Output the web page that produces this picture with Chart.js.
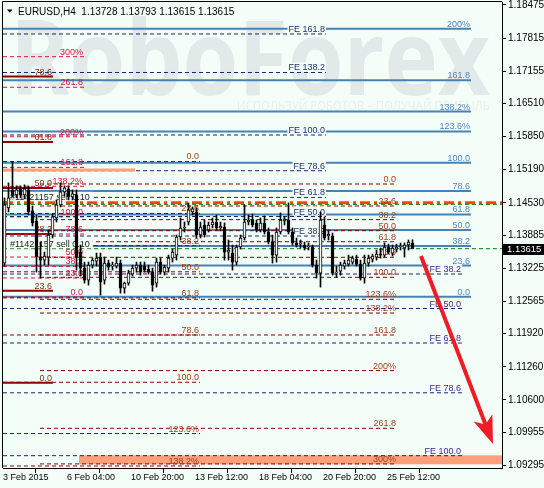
<!DOCTYPE html>
<html>
<head>
<meta charset="utf-8">
<title>EURUSD H4</title>
<script src="https://cdn.jsdelivr.net/npm/chart.js@4.4.1/dist/chart.umd.min.js"></script>
<style>
  html, body { margin: 0; padding: 0; background: #f4fef9; }
  canvas { display: block; }
</style>
</head>
<body>
<canvas id="chart" width="544" height="488"></canvas>
<script>
// EURUSD, H4 bars, 3 Feb 2015 12:00 .. 26 Feb 2015 12:00
var openP = [1.13328, 1.14428, 1.14788, 1.14688, 1.14808, 1.14688, 1.14788, 1.14368, 1.14168, 1.13448,
  1.13388, 1.13448, 1.13888, 1.14228, 1.14488, 1.14748, 1.14808, 1.14648, 1.14688, 1.13548,
  1.13228, 1.12988, 1.13288, 1.13368, 1.13448, 1.12988, 1.13328, 1.13268, 1.13268, 1.13328,
  1.12828, 1.12928, 1.13108, 1.13228, 1.13288, 1.13268, 1.13208, 1.13148, 1.12928, 1.13348,
  1.13148, 1.13228, 1.13428, 1.13488, 1.13848, 1.14028, 1.14148, 1.14348, 1.14348, 1.13888,
  1.14088, 1.13988, 1.14088, 1.14148, 1.14028, 1.14048, 1.13548, 1.13528, 1.13348, 1.13648,
  1.13828, 1.14148, 1.14188, 1.14128, 1.13988, 1.14128, 1.13948, 1.13748, 1.13488, 1.13948,
  1.14168, 1.14188, 1.13948, 1.13728, 1.13708, 1.13688, 1.13648, 1.13648, 1.13288, 1.13128,
  1.14088, 1.13868, 1.13868, 1.13128, 1.13168, 1.13268, 1.13308, 1.13348, 1.13408, 1.13308,
  1.13028, 1.13328, 1.13408, 1.13448, 1.13508, 1.13488, 1.13648, 1.13528, 1.13608, 1.13648,
  1.13628, 1.13688, 1.13728];
var highP = [1.14628, 1.14928, 1.15348, 1.14868, 1.14868, 1.14888, 1.14868, 1.14468, 1.14288, 1.13748,
  1.13548, 1.13988, 1.14308, 1.14588, 1.14928, 1.14868, 1.14868, 1.14788, 1.14788, 1.13688,
  1.13348, 1.13348, 1.13428, 1.13528, 1.13528, 1.13448, 1.13388, 1.13348, 1.13448, 1.13388,
  1.12948, 1.13188, 1.13288, 1.13348, 1.13348, 1.13348, 1.13288, 1.13228, 1.13428, 1.13428,
  1.13288, 1.13488, 1.13608, 1.13888, 1.14228, 1.14148, 1.14528, 1.14448, 1.14428, 1.14148,
  1.14188, 1.14148, 1.14228, 1.14288, 1.14148, 1.14128, 1.13788, 1.13688, 1.13688, 1.13888,
  1.14488, 1.14288, 1.14308, 1.14188, 1.14228, 1.14268, 1.14028, 1.13888, 1.14028, 1.14328,
  1.14248, 1.14528, 1.14028, 1.13828, 1.13788, 1.13748, 1.13728, 1.13688, 1.13388, 1.14348,
  1.14248, 1.13988, 1.13928, 1.13268, 1.13348, 1.13388, 1.13488, 1.13468, 1.13488, 1.13388,
  1.13488, 1.13488, 1.13508, 1.13588, 1.13628, 1.13728, 1.13708, 1.13688, 1.13708, 1.13728,
  1.13728, 1.13788, 1.13793];
var lowP = [1.13268, 1.14348, 1.14648, 1.14628, 1.14628, 1.14608, 1.14288, 1.14068, 1.13148, 1.13028,
  1.13288, 1.13288, 1.13828, 1.14148, 1.14448, 1.14668, 1.14588, 1.14588, 1.13188, 1.13068,
  1.12928, 1.12888, 1.13228, 1.13268, 1.12688, 1.12908, 1.13188, 1.13188, 1.13228, 1.12728,
  1.12728, 1.12888, 1.13068, 1.13148, 1.13088, 1.13148, 1.13108, 1.12768, 1.12848, 1.13108,
  1.13088, 1.13148, 1.13348, 1.13388, 1.13788, 1.13948, 1.14088, 1.14288, 1.13828, 1.13828,
  1.13848, 1.13948, 1.14028, 1.13988, 1.13968, 1.13388, 1.13388, 1.13188, 1.13288, 1.13608,
  1.13788, 1.14088, 1.14048, 1.13948, 1.13948, 1.13908, 1.13708, 1.13328, 1.13348, 1.13908,
  1.14088, 1.13908, 1.13688, 1.13648, 1.13628, 1.13588, 1.13588, 1.13248, 1.13028, 1.12848,
  1.13788, 1.13788, 1.13088, 1.13048, 1.13088, 1.13208, 1.13268, 1.13308, 1.13268, 1.12988,
  1.12928, 1.13268, 1.13348, 1.13388, 1.13428, 1.13448, 1.13508, 1.13468, 1.13548, 1.13588,
  1.13448, 1.13588, 1.13615];
var closeP = [1.14488, 1.14628, 1.14688, 1.14788, 1.14688, 1.14808, 1.14348, 1.14128, 1.13448, 1.13388,
  1.13468, 1.13888, 1.14248, 1.14488, 1.14748, 1.14828, 1.14648, 1.14708, 1.13448, 1.13228,
  1.12988, 1.13288, 1.13388, 1.13428, 1.12948, 1.13328, 1.13248, 1.13288, 1.13328, 1.12828,
  1.12928, 1.13128, 1.13228, 1.13288, 1.13148, 1.13188, 1.13148, 1.12888, 1.13348, 1.13148,
  1.13248, 1.13428, 1.13548, 1.13848, 1.14028, 1.14048, 1.14388, 1.14408, 1.13888, 1.14048,
  1.13888, 1.14088, 1.14148, 1.14028, 1.14068, 1.13548, 1.13588, 1.13348, 1.13648, 1.13828,
  1.14148, 1.14188, 1.14088, 1.13988, 1.14128, 1.13948, 1.13748, 1.13488, 1.13948, 1.14188,
  1.14208, 1.13948, 1.13728, 1.13688, 1.13728, 1.13628, 1.13668, 1.13288, 1.13128, 1.14188,
  1.13828, 1.13908, 1.13128, 1.13148, 1.13288, 1.13328, 1.13388, 1.13428, 1.13308, 1.13028,
  1.13328, 1.13428, 1.13468, 1.13508, 1.13488, 1.13648, 1.13548, 1.13628, 1.13648, 1.13668,
  1.13688, 1.13748, 1.13615];

// time axis labels and the bar each one marks
var xTickBars = [0, 16, 32, 48, 64, 80, 96];
var xTickLabels = ['3 Feb 2015', '6 Feb 04:00', '10 Feb 20:00', '13 Feb 12:00', '18 Feb 04:00', '20 Feb 20:00', '25 Feb 12:00'];

// price scale labels
var yTicks = [1.18475, 1.17815, 1.17155, 1.16510, 1.15850, 1.15190, 1.14530, 1.13885,
  1.13225, 1.12565, 1.11920, 1.11260, 1.10600, 1.09955, 1.09295];

// fibo expansion, blue
var expNames = ['200%', '161.8', '138.2%', '123.6%', '100.0', '78.6', '61.8', '50.0', '38.2', '23.6', '0.0'];
var expPrices = [1.18002, 1.16973, 1.16349, 1.15954, 1.15330, 1.14766, 1.14297, 1.13988, 1.13669, 1.13278, 1.12658];
// FE levels, upper tool
var feUpNames = ['FE 161.8', 'FE 138.2', 'FE 100.0', 'FE 78.6', 'FE 61.8', 'FE 50.0', 'FE 38.2'];
var feUpPrices = [1.17897, 1.17129, 1.15882, 1.15170, 1.14638, 1.14257, 1.13868];
// FE levels, lower tool
var feLowNames = ['FE 38.2', 'FE 50.0', 'FE 61.8', 'FE 78.6', 'FE 100.0'];
var feLowPrices = [1.13110, 1.12422, 1.11734, 1.10741, 1.09487];
// retracement, middle (dark red)
var midNames = ['0.0', '23.6', '38.2', '50.0', '61.8', '78.6', '100.0', '123.6%', '138.2%', '161.8', '200%', '261.8', '300%'];
var midPrices = [1.14905, 1.14466, 1.14195, 1.13974, 1.13754, 1.13443, 1.13044, 1.12606, 1.12332, 1.11894, 1.11184, 1.10033, 1.09323];
// retracement, left (dark red)
var leftNames = ['0.0', '23.6', '38.2', '50.0', '61.8', '78.6', '100.0', '123.6%', '138.2%'];
var leftPrices = [1.15354, 1.14317, 1.13675, 1.13154, 1.12634, 1.11894, 1.10951, 1.09929, 1.09281];
// retracement, crimson
var redNames = ['300%', '261.8', '200%', '161.8', '138.2%', '100.0', '78.6', '61.8', '50.0', '38.2', '23.6', '0.0'];
var redPrices = [1.17444, 1.16834, 1.15847, 1.15236, 1.14859, 1.14249, 1.13908, 1.13639, 1.13449, 1.13262, 1.13031, 1.12652];
// retracement, short solid
var shortNames = ['78.6', '61.8', '50.0', '38.2', '23.6', '0.0'];
var shortPrices = [1.17049, 1.15743, 1.14825, 1.13910, 1.12775, 1.10943];

// other objects
var stopPrice = 1.14530;
var slPrice = 1.14500;
var bidPrice = 1.13615;
var bandPrice = 1.15184;
var zonePrices = [1.09315, 1.09495];
var orderText = '#11421157 sell 0.10';
var arrowFrom = [104.125, 1.13469];
var arrowTo = [122.125, 1.09720];

// bar ranges of the drawn objects
var X_MIN = -0.375, X_MAX = 124.375;
var Y_MIN = 1.092414, Y_MAX = 1.185348;
var spans = {
  exp: [X_MIN, 116.625], feUp: [X_MIN, 80.375], feLow: [X_MIN, 114.375],
  mid: [8.875, 98.125], left: [X_MIN, 48.875], red: [X_MIN, 19.875], short: [X_MIN, 12.125],
  full: [X_MIN, X_MAX], band: [X_MIN, 32.625], zone: [18.625, X_MAX]
};

var FONT = '"Liberation Sans", Arial, sans-serif';
var BG = '#f4fef9';
var styles = {
  exp:   { color: '#4682b4', width: 2, dash: [],     text: '#4f86c0', order: 6 },
  feUp:  { color: '#1c2470', width: 1, dash: [4, 3], text: '#1f2f6f', order: 4, boxed: true },
  feLow: { color: '#1c2470', width: 1, dash: [4, 3], text: '#3b1d8f', order: 4, boxed: true },
  mid:   { color: '#8b0000', width: 1, dash: [4, 3], text: '#a0401e', order: 4 },
  left:  { color: '#8b0000', width: 1, dash: [4, 3], text: '#a0401e', order: 4 },
  red:   { color: '#dc143c', width: 1, dash: [4, 3], text: '#dc143c', order: 4 },
  short: { color: '#8b0000', width: 2, dash: [],     text: '#8b2a0a', order: 4 }
};
var fiboSets = [
  { key: 'exp', names: expNames, prices: expPrices },
  { key: 'feUp', names: feUpNames, prices: feUpPrices },
  { key: 'feLow', names: feLowNames, prices: feLowPrices },
  { key: 'mid', names: midNames, prices: midPrices },
  { key: 'left', names: leftNames, prices: leftPrices },
  { key: 'red', names: redNames, prices: redPrices },
  { key: 'short', names: shortNames, prices: shortPrices }
];

function hLine(price, span, color, width, dash, order) {
  return {
    type: 'line', order: order,
    data: [{ x: span[0], y: price }, { x: span[1], y: price }],
    borderColor: color, borderWidth: width, borderDash: dash,
    pointRadius: 0, fill: false, tension: 0
  };
}

var datasets = [];
// candles: wicks first, bodies on top
datasets.push({
  type: 'bar', order: 2, grouped: false, barThickness: 1,
  data: highP.map(function (h, i) { return { x: i, y: [lowP[i], h] }; }),
  backgroundColor: '#000', borderWidth: 0
});
datasets.push({
  type: 'bar', order: 1, grouped: false, barThickness: 3,
  data: openP.map(function (o, i) { return { x: i, y: [o, closeP[i]] }; }),
  backgroundColor: openP.map(function (o, i) { return closeP[i] >= o ? '#ffffff' : '#000000'; }),
  borderColor: '#000', borderWidth: 1, borderSkipped: false
});
fiboSets.forEach(function (s) {
  var st = styles[s.key];
  s.prices.forEach(function (p) {
    datasets.push(hLine(p, spans[s.key], st.color, st.width, st.dash, st.order));
  });
});
datasets.push(hLine(bandPrice, spans.band, '#ffa07a', 3, [], 3));
datasets.push(hLine(slPrice, spans.full, '#008000', 1, [4, 3], 3));
datasets.push(hLine(stopPrice, spans.full, '#ff4500', 3, [10, 4, 3, 4], 3));
datasets.push(hLine(bidPrice, spans.full, '#008000', 1, [4, 3], 3));

var decor = {
  id: 'decor',
  beforeDatasetsDraw: function (chart) {
    var ctx = chart.ctx, a = chart.chartArea, xs = chart.scales.x, ys = chart.scales.y;
    ctx.save();
    ctx.beginPath();
    ctx.rect(a.left, a.top, a.right - a.left, a.bottom - a.top);
    ctx.clip();
    // watermark
    ctx.fillStyle = '#e1eae9';
    ctx.font = 'bold 104px "Open Sans"';
    var w = ctx.measureText('RoboForex').width;
    ctx.save();
    ctx.translate(10, 95);
    ctx.scale(480 / w, 1);
    ctx.fillText('RoboForex', 0, 0);
    ctx.restore();
    ctx.fillStyle = '#e8efed';
    ctx.font = '12px "Open Sans"';
    var sub = 'ИСПОЛЬЗУЙ РОБОТОВ – ПОЛУЧАЙ ПРИБЫЛЬ';
    var sw = ctx.measureText(sub).width;
    ctx.save();
    ctx.translate(237, 110);
    ctx.scale(253 / sw, 1);
    ctx.fillText(sub, 0, 0);
    ctx.restore();
    // target zone
    var x0 = xs.getPixelForValue(spans.zone[0]), x1 = xs.getPixelForValue(spans.zone[1]);
    var y0 = ys.getPixelForValue(zonePrices[1]), y1 = ys.getPixelForValue(zonePrices[0]);
    ctx.fillStyle = '#ffa07a';
    ctx.fillRect(x0, y0, x1 - x0, y1 - y0);
    ctx.restore();
    // frame, top and left
    ctx.save();
    ctx.strokeStyle = '#000';
    ctx.lineWidth = 1;
    ctx.beginPath();
    ctx.moveTo(a.left - 0.5, a.bottom);
    ctx.lineTo(a.left - 0.5, a.top - 0.5);
    ctx.lineTo(a.right, a.top - 0.5);
    ctx.stroke();
    ctx.restore();
  }
};

var fiboText = {
  id: 'fiboText',
  beforeDatasetDraw: function (chart, args) {
    if (args.index !== 0) return; // right before the candles
    var ctx = chart.ctx, a = chart.chartArea, xs = chart.scales.x, ys = chart.scales.y;
    ctx.save();
    ctx.beginPath();
    ctx.rect(a.left, a.top, a.right - a.left, a.bottom - a.top);
    ctx.clip();
    ctx.font = '9px ' + FONT;
    ctx.textAlign = 'right';
    ctx.textBaseline = 'alphabetic';
    fiboSets.forEach(function (s) {
      var st = styles[s.key];
      var xr = Math.round(xs.getPixelForValue(spans[s.key][1])) - 1;
      s.names.forEach(function (n, i) {
        var y = ys.getPixelForValue(s.prices[i]) - 2;
        if (st.boxed) {
          var w = ctx.measureText(n).width;
          ctx.fillStyle = BG;
          ctx.fillRect(xr - w - 1, y - 8, w + 2, 9);
        }
        ctx.fillStyle = st.text;
        ctx.fillText(n, xr, y);
      });
    });
    // order labels
    ctx.textAlign = 'left';
    [[stopPrice, 3], [bidPrice, 1.5]].forEach(function (o) {
      var y = ys.getPixelForValue(o[0]) - o[1];
      var w = ctx.measureText(orderText).width;
      ctx.fillStyle = BG;
      ctx.fillRect(a.left, y - 8, w + 10, 9);
      ctx.fillStyle = '#222';
      ctx.fillText(orderText, a.left + 7, y);
    });
    ctx.restore();
  }
};

var arrow = {
  id: 'arrow',
  afterDatasetsDraw: function (chart) {
    var ctx = chart.ctx, xs = chart.scales.x, ys = chart.scales.y;
    var x0 = xs.getPixelForValue(arrowFrom[0]), y0 = ys.getPixelForValue(arrowFrom[1]);
    var x1 = xs.getPixelForValue(arrowTo[0]), y1 = ys.getPixelForValue(arrowTo[1]);
    var len = Math.hypot(x1 - x0, y1 - y0);
    var ux = (x1 - x0) / len, uy = (y1 - y0) / len;
    var px = -uy, py = ux;
    ctx.save();
    ctx.strokeStyle = '#ee1c25';
    ctx.fillStyle = '#ee1c25';
    ctx.lineWidth = 4;
    ctx.beginPath();
    ctx.moveTo(x0, y0);
    ctx.lineTo(x1 - ux * 18, y1 - uy * 18);
    ctx.stroke();
    ctx.beginPath();
    ctx.moveTo(x1, y1);
    ctx.lineTo(x1 - ux * 28 + px * 10, y1 - uy * 28 + py * 10);
    ctx.lineTo(x1 - ux * 21, y1 - uy * 21);
    ctx.lineTo(x1 - ux * 28 - px * 10, y1 - uy * 28 - py * 10);
    ctx.closePath();
    ctx.fill();
    ctx.restore();
  }
};

var header = {
  id: 'header',
  afterDraw: function (chart) {
    var ctx = chart.ctx, a = chart.chartArea, ys = chart.scales.y;
    var last = closeP.length - 1;
    ctx.save();
    ctx.fillStyle = '#000';
    ctx.beginPath();
    ctx.moveTo(7, 9.5);
    ctx.lineTo(12.5, 9.5);
    ctx.lineTo(9.75, 12.7);
    ctx.closePath();
    ctx.fill();
    ctx.font = '10px ' + FONT;
    ctx.textBaseline = 'alphabetic';
    ctx.fillText('EURUSD,H4  ' + [openP[last], highP[last], lowP[last], closeP[last]].map(function (v) {
      return v.toFixed(5);
    }).join(' '), 18, 14.5);
    // bid price tag
    var yb = ys.getPixelForValue(bidPrice);
    ctx.fillRect(a.right + 1, Math.round(yb) - 5, 42, 11);
    ctx.fillStyle = '#fff';
    ctx.textBaseline = 'middle';
    ctx.font = '9.5px ' + FONT;
    ctx.fillText(bidPrice.toFixed(5), a.right + 5, Math.round(yb) + 0.5);
    ctx.restore();
  }
};

new Chart(document.getElementById('chart').getContext('2d'), {
  type: 'bar',
  data: { datasets: datasets },
  options: {
    responsive: false,
    maintainAspectRatio: false,
    devicePixelRatio: 1,
    animation: false,
    events: [],
    layout: { padding: { left: 3, top: 2, right: 0, bottom: 0 } },
    plugins: { legend: { display: false }, tooltip: { enabled: false } },
    scales: {
      x: {
        type: 'linear', min: X_MIN, max: X_MAX, offset: false,
        afterBuildTicks: function (scale) {
          scale.ticks = xTickBars.map(function (b) { return { value: b + X_MIN }; });
        },
        afterFit: function (scale) {
          scale.height = 20; scale.paddingLeft = 0; scale.paddingRight = 0;
        },
        grid: { drawOnChartArea: false, tickLength: 5, color: '#000' },
        border: { color: '#000' },
        ticks: {
          align: 'start', padding: -1, maxRotation: 0, autoSkip: false, color: '#000',
          font: { family: FONT, size: 9 },
          callback: function (v, i) { return xTickLabels[i]; }
        }
      },
      y: {
        type: 'linear', position: 'right', min: Y_MIN, max: Y_MAX, beginAtZero: false,
        afterBuildTicks: function (scale) {
          scale.ticks = yTicks.map(function (v) { return { value: v }; });
        },
        afterFit: function (scale) {
          scale.width = 42; scale.paddingTop = 0; scale.paddingBottom = 0;
        },
        grid: { drawOnChartArea: false, tickLength: 4, color: '#000' },
        border: { color: '#000' },
        ticks: {
          padding: 2, autoSkip: false, color: '#000',
          font: { family: FONT, size: 10 },
          callback: function (v) { return v.toFixed(5); }
        }
      }
    }
  },
  plugins: [decor, fiboText, arrow, header]
});
</script>
</body>
</html>
